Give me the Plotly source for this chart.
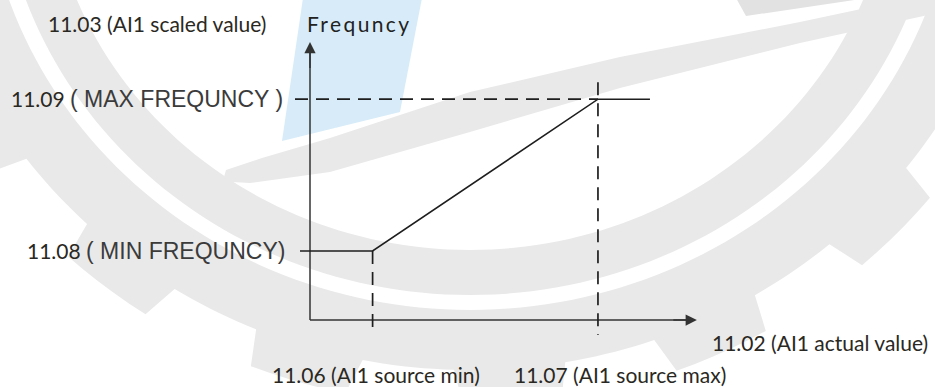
import numpy as np
import plotly.graph_objects as go

# ---------------- data (conceptual units of the diagram) ----------------
source_codes = ["11.06", "11.07"]
source_names = ["(AI1 source min)", "(AI1 source max)"]
source_values = [1.0, 4.6]          # AI1 source min / max  (x)
freq_codes = ["11.08", "11.09"]
freq_names = ["( MIN FREQUNCY)", "( MAX FREQUNCY )"]
freq_values = [1.0, 3.2]            # min / max frequency    (y)
x_axis_length = 6.18
y_axis_length = 4.03
x_axis_label = "11.02 (AI1 actual value)"
y_axis_label = "11.03 (AI1 scaled value)"
y_axis_name = "Frequncy"

# ---------------- page geometry / style ----------------
W, H = 935, 387
ORIGIN = (310, 320)      # pixel position of the axes origin
KX, KY = 62.6, 69.0      # pixels per unit
x_range = [-ORIGIN[0] / KX, (W - ORIGIN[0]) / KX]
y_range = [-(H - ORIGIN[1]) / KY, ORIGIN[1] / KY]

def ux(px):
    return px / KX

def uy(px):
    return px / KY

INK = "#1e1e1e"
AXIS = "#333333"
GREY = "#e9e9e9"
BLUE = "#d7ecf8"
DASH = "13px,8px"

fig = go.Figure()

# ---------------- background watermark (decoration) ----------------
def paper(x, y):
    return x / W, 1 - y / H

def path_of(pts):
    s = []
    for i, (x, y) in enumerate(pts):
        X, Y = paper(x, y)
        s.append(("M" if i == 0 else "L") + f"{X:.5f},{Y:.5f}")
    return " ".join(s) + " Z"

CX, CY, SX = 470.0, -150.0, 1.06

def ell(r, th):
    t = np.radians(th)
    return CX + SX * r * np.cos(t), CY + r * np.sin(t)

def circle(r, reverse=False):
    ths = np.linspace(0, 360, 241)[:-1]
    if reverse:
        ths = ths[::-1]
    return [ell(r, t) for t in ths]

# inner band
inner_band = path_of(circle(445)) + " " + path_of(circle(400, reverse=True))
# outer toothed band
N_TEETH, T0 = 17, 43.5
pitch = 360.0 / N_TEETH
HB, HT, RB, RT = 5.8, 4.8, 520, 556
gear_pts = []
for k in range(N_TEETH):
    c = T0 + k * pitch
    for th in np.linspace(c - pitch + HB, c - HB, 10):
        gear_pts.append(ell(RB, th))
    for th in np.linspace(c - HT, c + HT, 6):
        gear_pts.append(ell(RT, th))
outer_band = path_of(gear_pts) + " " + path_of(circle(460, reverse=True))

blue_quad = [(303, -2), (422, -2), (400, 112), (282, 141)]
blade = [(226, 170), (262, 158), (330, 138), (470, 92), (620, 57), (800, 22), (960, -12),
         (960, 8), (800, 43), (620, 88), (470, 132), (330, 172), (250, 183), (232, 182), (224, 177)]
tab = [(736, -2), (746, 16), (868, -2)]

shapes = [
    dict(type="path", path=outer_band, fillcolor=GREY, line=dict(width=0), layer="below",
         xref="paper", yref="paper", fillrule="evenodd"),
    dict(type="path", path=inner_band, fillcolor=GREY, line=dict(width=0), layer="below",
         xref="paper", yref="paper", fillrule="evenodd"),
    dict(type="path", path=path_of(blue_quad), fillcolor=BLUE, line=dict(width=0), layer="below",
         xref="paper", yref="paper"),
    dict(type="path", path=path_of(blade), fillcolor=GREY, line=dict(width=0), layer="below",
         xref="paper", yref="paper"),
    dict(type="path", path=path_of(tab), fillcolor="#e2e2e2", line=dict(width=0), layer="below",
         xref="paper", yref="paper"),
]

# ---------------- diagram ----------------
x_min, x_max = source_values
f_min, f_max = freq_values

def line(xs, ys, color=INK, width=1.6, dash=None):
    fig.add_trace(go.Scatter(x=xs, y=ys, mode="lines", hoverinfo="skip",
                             line=dict(color=color, width=width, dash=dash)))

# axes
line([0, 0], [0, y_axis_length - uy(4)], AXIS, 1.5)
line([0, x_axis_length - ux(4)], [0, 0], AXIS, 1.5)
# dashed guides
line([-ux(15), x_max], [f_max, f_max], INK, 1.7, DASH)
line([x_min, x_min], [f_min, -uy(15)], INK, 1.7, DASH)
line([x_max, x_max], [f_max + uy(17), -uy(15)], INK, 1.7, DASH)
# characteristic curve with clamped ends
line([-ux(10), x_min, x_max, x_max + ux(52)], [f_min, f_min, f_max, f_max], INK, 1.6)

annotations = []
# arrow heads
annotations.append(dict(x=0, y=y_axis_length, ax=0, ay=y_axis_length - 0.4,
                        xref="x", yref="y", axref="x", ayref="y", text="",
                        showarrow=True, arrowhead=2, arrowsize=1.5, arrowwidth=1.5,
                        arrowcolor=AXIS, standoff=0))
annotations.append(dict(x=x_axis_length, y=0, ax=x_axis_length - 0.4, ay=0,
                        xref="x", yref="y", axref="x", ayref="y", text="",
                        showarrow=True, arrowhead=2, arrowsize=1.5, arrowwidth=1.5,
                        arrowcolor=AXIS, standoff=0))

LAB = dict(family="Lato, Noto Sans, sans-serif", size=21, color="#2a2822")
ARIAL = "font-family:'Liberation Sans', Arial, sans-serif; font-size:23px; color:#3b3b3b"

# y-axis labels
annotations.append(dict(x=0, y=y_axis_length, xref="x", yref="y", text=y_axis_label,
                        showarrow=False, xanchor="right", yanchor="middle",
                        xshift=-42, yshift=18, font=LAB))
annotations.append(dict(x=0, y=y_axis_length, xref="x", yref="y",
                        text=f"<span style=\"letter-spacing:2.4px\">{y_axis_name}</span>",
                        showarrow=False, xanchor="left", yanchor="middle",
                        xshift=-5, yshift=18, font=dict(LAB, color="#222222")))
# frequency levels
for code, name, fv, sh in zip(freq_codes, freq_names, freq_values, [-23, -25]):
    annotations.append(dict(x=0, y=fv, xref="x", yref="y",
                            text=f"{code} <span style=\"{ARIAL}\">{name}</span>",
                            showarrow=False, xanchor="right", yanchor="middle",
                            xshift=sh, yshift=0, font=LAB))
# source levels
for code, name, sv, sh in zip(source_codes, source_names, source_values, [3, 22]):
    annotations.append(dict(x=sv, y=0, xref="x", yref="y", text=f"{code} {name}",
                            showarrow=False, xanchor="center", yanchor="middle",
                            xshift=sh, yshift=-54, font=LAB))
# x-axis label
annotations.append(dict(x=x_axis_length, y=0, xref="x", yref="y", text=x_axis_label,
                        showarrow=False, xanchor="left", yanchor="middle",
                        xshift=13, yshift=-22, font=LAB))

fig.update_layout(
    width=W, height=H,
    margin=dict(l=0, r=0, t=0, b=0),
    paper_bgcolor="white", plot_bgcolor="white",
    showlegend=False,
    xaxis=dict(range=x_range, visible=False, fixedrange=True),
    yaxis=dict(range=y_range, visible=False, fixedrange=True),
    shapes=shapes,
    annotations=annotations,
    font=LAB,
)

fig.write_html("out.html", config={"displayModeBar": False},
               post_script="document.body.style.margin='0';document.body.style.overflow='hidden';")
